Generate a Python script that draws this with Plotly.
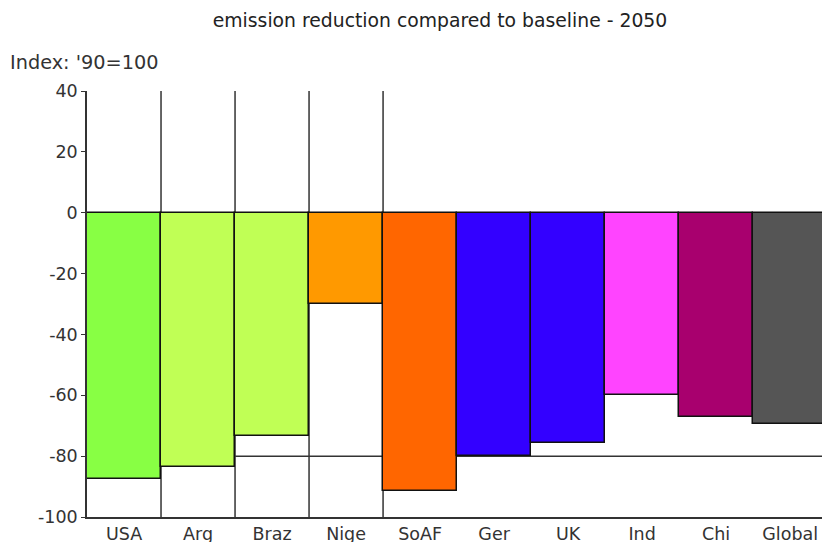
import plotly.graph_objects as go

categories = ["USA", "Arg", "Braz", "Nige", "SoAF", "Ger", "UK", "Ind", "Chi", "Global"]
reduction = [-87.6, -83.7, -73.4, -30.0, -91.4, -79.8, -75.6, -59.8, -67.0, -69.4]
colors = ["#88ff44", "#c0ff55", "#c0ff55", "#ff9900", "#ff6600",
          "#3300ff", "#3300ff", "#ff44ff", "#a8006e", "#555555"]
target = -80
target_start = 1.5
framed_boundaries = [0.5, 1.5, 2.5, 3.5]
y_min, y_max = -100, 40
y_ticks = [40, 20, 0, -20, -40, -60, -80, -100]
y_tick_labels = [str(v) for v in y_ticks]

fig = go.Figure()
fig.add_trace(go.Bar(
    x=list(range(len(categories))),
    y=reduction,
    width=1,
    marker=dict(color=colors, line=dict(color="#111111", width=1.5)),
    hoverinfo="skip",
))

x_end = len(categories) - 0.57
shapes = []
for b in framed_boundaries:
    shapes.append(dict(type="line", xref="x", yref="y", x0=b, x1=b, y0=y_min, y1=y_max,
                       line=dict(color="#333333", width=1.5), layer="below"))
shapes.append(dict(type="line", xref="x", yref="y", x0=target_start, x1=x_end, y0=target, y1=target,
                   line=dict(color="#333333", width=1.5), layer="below"))
shapes.append(dict(type="line", xref="x", yref="y", x0=-0.5, x1=x_end, y0=0, y1=0,
                   line=dict(color="#111111", width=1.5), layer="below"))

W, H = 822, 542
fig.update_layout(
    width=W, height=H,
    margin=dict(l=87, r=0, t=91, b=25, autoexpand=False),
    paper_bgcolor="white", plot_bgcolor="white",
    font=dict(family="DejaVu Sans", size=17.5, color="#333333"),
    showlegend=False,
    bargap=0,
    shapes=shapes,
    title=dict(text="emission reduction compared to baseline - 2050", x=440 / W, xref="container",
               xanchor="center", y=1 - 20 / H, yref="container", yanchor="middle",
               pad=dict(t=0, b=0, l=0, r=0),
               font=dict(size=18.8, color="#222222")),
    annotations=[dict(text="Index: '90=100", xref="paper", yref="paper", x=-0.107, y=1.066,
                      xanchor="left", yanchor="middle", showarrow=False,
                      font=dict(size=19.3, color="#333333"))],
    xaxis=dict(range=[-0.5, x_end], tickmode="array", tickvals=list(range(len(categories))),
               ticktext=categories, showgrid=False, zeroline=False, showline=True,
               linecolor="#333333", linewidth=1.5, ticks="", automargin=False),
    yaxis=dict(range=[y_min, y_max], tickmode="array", tickvals=y_ticks, ticktext=y_tick_labels,
               showgrid=False, zeroline=False, automargin=False,
               showline=True, linecolor="#333333", linewidth=1.5, ticks="outside",
               ticklen=4, tickcolor="#333333"),
)

fig.write_html(
    "out.html",
    config={"displayModeBar": False},
    post_script="document.body.style.margin='0';document.body.style.overflow='hidden';",
)
